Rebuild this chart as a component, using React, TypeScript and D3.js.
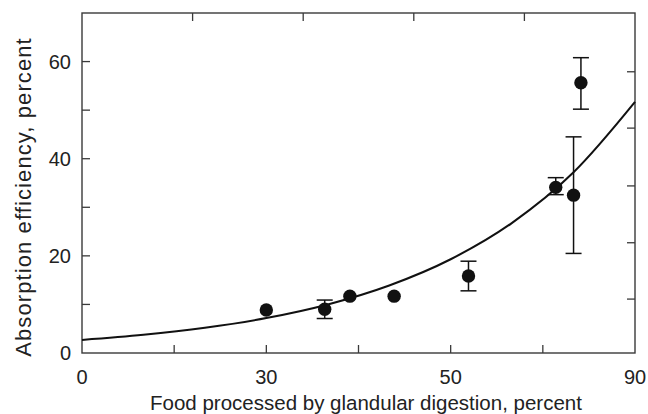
import React from "react";
import * as d3 from "d3";

// ---- data ----
const xTickValues = [0, 15, 30, 45, 60, 75, 90];
const xTickLabels = ["0", "", "30", "", "50", "", "90"];
const yTickValues = [0, 10, 20, 30, 40, 50, 60];
const yTickLabels = ["0", "", "20", "", "40", "", "60"];
const topTickValues = [18, 36, 54, 72];
const rightTickValues = [11.1, 22.7, 34.4, 46.3, 57.9];

const pointX = [30, 39.5, 43.6, 50.8, 62.9, 77.1, 80.0, 81.2];
const pointY = [8.85, 9.0, 11.7, 11.7, 15.85, 34.1, 32.5, 55.65];
const errHigh: (number | null)[] = [null, 10.9, null, null, 18.9, 36.1, 44.5, 60.8];
const errLow: (number | null)[] = [null, 7.1, null, null, 12.8, 32.6, 20.5, 50.2];

const curveX = [0, 10, 20, 30, 40, 50, 60, 70, 80, 90];
const curveY = [2.7, 3.75, 5.2, 7.2, 10.0, 13.9, 19.3, 26.8, 37.2, 51.7];

const xTitle = "Food processed by glandular digestion, percent";
const yTitle = "Absorption efficiency, percent";

export default function App() {
  const W = 648, H = 414;
  const left = 82, right = 635, top = 13, bottom = 353;
  const x = d3.scaleLinear().domain([0, 90]).range([left, right]);
  const y = d3.scaleLinear().domain([0, 70]).range([bottom, top]);
  const font = "'Liberation Sans', Arial, Helvetica, sans-serif";
  const textColor = "#222";
  const axisColor = "#3a3a3a";
  const tickLen = 8;

  const line = d3
    .line<number>()
    .x((_, i) => x(curveX[i]))
    .y((d) => y(d))
    .curve(d3.curveMonotoneX);

  const cap = 8;

  return (
    <svg
      width={W}
      height={H}
      style={{ position: "absolute", left: 0, top: 0, background: "#fff" }}
      fontFamily={font}
    >
      {/* frame */}
      <rect x={left} y={top} width={right - left} height={bottom - top} fill="none" stroke={axisColor} strokeWidth={1.4} />

      {/* bottom ticks */}
      {xTickValues.map((v, i) => (
        <g key={"xt" + i}>
          {v > 0 && v < 90 && (
            <line x1={x(v)} x2={x(v)} y1={bottom} y2={bottom - tickLen} stroke={axisColor} strokeWidth={1.3} />
          )}
          <text x={x(v)} y={bottom + 31} textAnchor="middle" fontSize={20} fill={textColor}>
            {xTickLabels[i]}
          </text>
        </g>
      ))}

      {/* left ticks */}
      {yTickValues.map((v, i) => (
        <g key={"yt" + i}>
          {v > 0 && (
            <line x1={left} x2={left + tickLen} y1={y(v)} y2={y(v)} stroke={axisColor} strokeWidth={1.3} />
          )}
          <text x={left - 11} y={y(v)} dy="0.36em" textAnchor="end" fontSize={20} fill={textColor}>
            {yTickLabels[i]}
          </text>
        </g>
      ))}

      {/* top ticks */}
      {topTickValues.map((v, i) => (
        <line key={"tt" + i} x1={x(v)} x2={x(v)} y1={top} y2={top + tickLen} stroke={axisColor} strokeWidth={1.3} />
      ))}

      {/* right ticks */}
      {rightTickValues.map((v, i) => (
        <line key={"rt" + i} x1={right} x2={right - tickLen} y1={y(v)} y2={y(v)} stroke={axisColor} strokeWidth={1.3} />
      ))}

      {/* fitted curve */}
      <path d={line(curveY) || ""} fill="none" stroke="#111" strokeWidth={2} />

      {/* error bars */}
      {pointX.map((px, i) =>
        errHigh[i] != null && errLow[i] != null ? (
          <g key={"eb" + i} stroke="#111" strokeWidth={1.5}>
            <line x1={x(px)} x2={x(px)} y1={y(errHigh[i] as number)} y2={y(errLow[i] as number)} />
            <line x1={x(px) - cap} x2={x(px) + cap} y1={y(errHigh[i] as number)} y2={y(errHigh[i] as number)} />
            <line x1={x(px) - cap} x2={x(px) + cap} y1={y(errLow[i] as number)} y2={y(errLow[i] as number)} />
          </g>
        ) : null
      )}

      {/* points */}
      {pointX.map((px, i) => (
        <circle key={"p" + i} cx={x(px)} cy={y(pointY[i])} r={6.7} fill="#111" />
      ))}

      {/* axis titles */}
      <text x={366} y={410} textAnchor="middle" fontSize={20.5} fill={textColor}>
        {xTitle}
      </text>
      <text
        transform={`translate(31, ${197}) rotate(-90)`}
        textAnchor="middle"
        fontSize={22}
        letterSpacing={1.1}
        fill={textColor}
      >
        {yTitle}
      </text>
    </svg>
  );
}
